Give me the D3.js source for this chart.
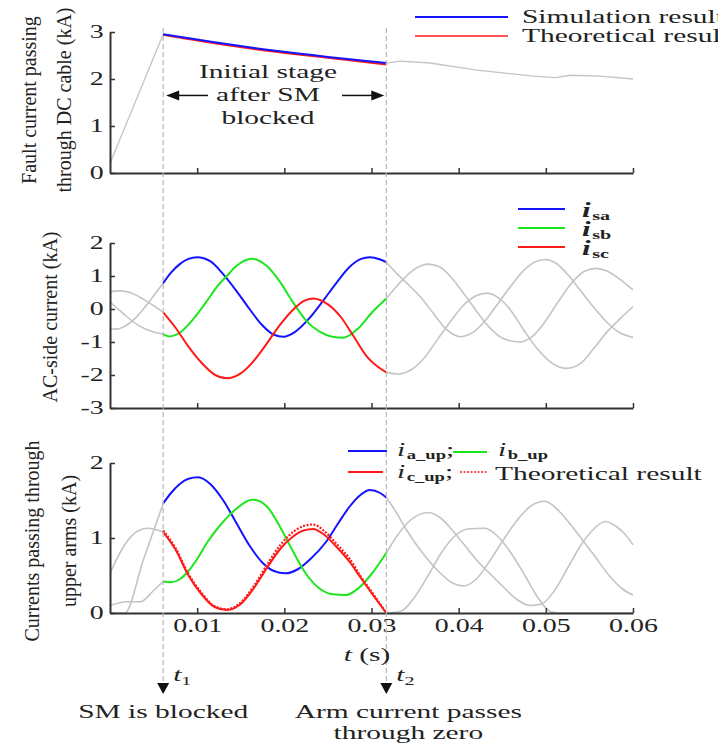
<!DOCTYPE html>
<html>
<head>
<meta charset="utf-8">
<script src="https://cdn.jsdelivr.net/npm/d3@7"></script>
<style>
  body { margin: 0; background: #fff; overflow: hidden; }
  svg { display: block; }
  text { font-family: "Liberation Serif", "Times New Roman", serif; fill: #222; }
</style>
</head>
<body>
<div id="chart"></div>
<script>
// ---- data (time in s, current in kA) ----
const T1 = 0.0061, T2 = 0.0317;
const xTicks = [0.01, 0.02, 0.03, 0.04, 0.05, 0.06];

// DC cable fault current
const dcBefore = [[0, 0.2], [0.0061, 2.95]];
const dcSim = [[0.0061, 2.95], [0.012, 2.78], [0.019, 2.60], [0.025, 2.47], [0.0317, 2.34]];
const dcTheo = [[0.0061, 2.94], [0.012, 2.76], [0.019, 2.58], [0.025, 2.45], [0.0317, 2.31]];
const dcAfter = [[0.0317, 2.34], [0.0333, 2.38], [0.0367, 2.34], [0.0421, 2.19], [0.0486, 2.06],
  [0.0512, 2.03], [0.0528, 2.08], [0.0562, 2.06], [0.06, 2.0]];

// AC-side currents
const acBefore = [
  [[0, 0.52], [0.001, 0.55], [0.002, 0.52], [0.003, 0.42], [0.004, 0.27], [0.005, 0.1], [0.0061, -0.1]],
  [[0, 0.22], [0.001, -0.02], [0.002, -0.25], [0.003, -0.45], [0.004, -0.6], [0.005, -0.7], [0.0061, -0.76]],
  [[0, -0.59], [0.0006, -0.61], [0.0015, -0.55], [0.0027, -0.33], [0.004, 0.05], [0.005, 0.4], [0.0061, 0.78]]
];
const isa = [[0.0061, 0.78], [0.007, 1.1], [0.008, 1.36], [0.009, 1.52], [0.01, 1.57], [0.0115, 1.45],
  [0.013, 1.05], [0.0145, 0.55], [0.016, 0.0], [0.0175, -0.5], [0.0188, -0.78], [0.0199, -0.84],
  [0.0212, -0.7], [0.0228, -0.3], [0.0245, 0.27], [0.026, 0.8], [0.0275, 1.28], [0.0288, 1.52],
  [0.0298, 1.57], [0.031, 1.5], [0.0317, 1.42]];
const isb = [[0.0061, -0.76], [0.0068, -0.83], [0.008, -0.72], [0.0095, -0.32], [0.011, 0.2],
  [0.0125, 0.75], [0.0134, 1.0], [0.0145, 1.3], [0.0163, 1.52], [0.018, 1.3], [0.0195, 0.82],
  [0.021, 0.2], [0.0225, -0.35], [0.024, -0.68], [0.0255, -0.84], [0.0268, -0.87], [0.0285, -0.58],
  [0.03, -0.12], [0.0317, 0.32]];
const isc = [[0.0061, -0.1], [0.0075, -0.56], [0.009, -1.14], [0.0105, -1.63], [0.012, -1.99],
  [0.0134, -2.1], [0.015, -1.95], [0.0165, -1.57], [0.018, -1.04], [0.0195, -0.48], [0.021, -0.02],
  [0.0222, 0.24], [0.0233, 0.32], [0.025, 0.14], [0.0265, -0.25], [0.028, -0.85], [0.0295, -1.45], [0.0317, -1.92]];
const acAfter = [
  [[0.0317, 1.42], [0.033, 1.05], [0.0343, 0.72], [0.0356, 0.37], [0.037, -0.1], [0.0386, -0.62],
   [0.0402, -0.84], [0.0418, -0.68], [0.0432, -0.3], [0.0446, 0.2], [0.046, 0.7], [0.0474, 1.15],
   [0.0487, 1.42], [0.0499, 1.5], [0.0512, 1.38], [0.0526, 1.02], [0.054, 0.55], [0.0555, 0.05],
   [0.057, -0.4], [0.0585, -0.72], [0.06, -0.86]],
  [[0.0317, 0.32], [0.033, 0.72], [0.0345, 1.12], [0.0356, 1.3], [0.0365, 1.36], [0.0378, 1.28],
   [0.039, 1.0], [0.0405, 0.5], [0.042, -0.05], [0.0435, -0.55], [0.045, -0.88], [0.047, -1.0],
   [0.0485, -0.82], [0.05, -0.35], [0.0515, 0.25], [0.053, 0.8], [0.0545, 1.15], [0.0558, 1.23],
   [0.057, 1.15], [0.0585, 0.9], [0.06, 0.58]],
  [[0.0317, -1.92], [0.0331, -1.97], [0.0345, -1.85], [0.036, -1.5], [0.0375, -0.95], [0.039, -0.4],
   [0.0405, 0.1], [0.042, 0.4], [0.0432, 0.48], [0.0445, 0.35], [0.046, -0.05], [0.0475, -0.65],
   [0.049, -1.2], [0.0505, -1.6], [0.0524, -1.8], [0.054, -1.65], [0.0555, -1.2], [0.057, -0.7],
   [0.0585, -0.3], [0.06, 0.07]]
];

// upper arm currents
const armBefore = [
  [[0, 0.53], [0.0018, 0.93], [0.0033, 1.1], [0.0044, 1.13], [0.0053, 1.11], [0.0061, 1.08]],
  [[0, 0.1], [0.0019, 0.15], [0.0035, 0.15], [0.005, 0.3], [0.0061, 0.42]],
  [[0, 0], [0.0017, 0], [0.0038, 0.7], [0.0061, 1.46]]
];
const iaUp = [[0.0061, 1.46], [0.007, 1.6], [0.008, 1.72], [0.009, 1.79], [0.0101, 1.81], [0.0115, 1.72],
  [0.013, 1.5], [0.0145, 1.2], [0.016, 0.9], [0.0175, 0.67], [0.0188, 0.56], [0.0201, 0.53],
  [0.0215, 0.58], [0.023, 0.72], [0.0248, 0.95], [0.0262, 1.2], [0.0275, 1.42], [0.0288, 1.58],
  [0.0298, 1.64], [0.031, 1.6], [0.0317, 1.54]];
const ibUp = [[0.0061, 0.42], [0.007, 0.41], [0.008, 0.45], [0.009, 0.56], [0.01, 0.72], [0.0112, 0.95],
  [0.0125, 1.15], [0.0141, 1.35], [0.0164, 1.51], [0.018, 1.42], [0.0195, 1.15], [0.021, 0.82],
  [0.0225, 0.52], [0.024, 0.33], [0.0255, 0.25], [0.0271, 0.24], [0.0285, 0.33], [0.03, 0.52], [0.0317, 0.8]];
const icUp = [[0.0061, 1.08], [0.0075, 0.85], [0.009, 0.5], [0.0105, 0.25], [0.012, 0.08], [0.0134, 0.04],
  [0.015, 0.12], [0.0165, 0.33], [0.018, 0.6], [0.0195, 0.85], [0.021, 1.02], [0.0222, 1.1],
  [0.0233, 1.12], [0.0245, 1.05], [0.026, 0.88], [0.0275, 0.68], [0.0287, 0.48], [0.0301, 0.25], [0.0317, 0.0]];
const icTheo = [[0.0061, 1.1], [0.0075, 0.87], [0.009, 0.52], [0.0105, 0.27], [0.012, 0.09], [0.0134, 0.05],
  [0.015, 0.14], [0.0165, 0.36], [0.018, 0.64], [0.0195, 0.9], [0.021, 1.08], [0.0222, 1.16],
  [0.0233, 1.18], [0.0245, 1.1], [0.026, 0.92], [0.0275, 0.72], [0.0287, 0.5], [0.0301, 0.27], [0.0317, 0.0]];
const armAfter = [
  [[0.0317, 1.54], [0.0328, 1.35], [0.034, 1.11], [0.036, 0.78], [0.0379, 0.53], [0.0393, 0.4],
   [0.0405, 0.36], [0.042, 0.45], [0.0436, 0.7], [0.0451, 0.97], [0.0466, 1.22], [0.0482, 1.42],
   [0.0499, 1.49], [0.0515, 1.36], [0.0527, 1.2], [0.0539, 1.02], [0.0556, 0.76], [0.0574, 0.48],
   [0.0588, 0.32], [0.06, 0.24]],
  [[0.0317, 0.8], [0.033, 1.04], [0.0345, 1.24], [0.0365, 1.34], [0.038, 1.26], [0.0393, 1.1],
   [0.0405, 0.93], [0.0425, 0.65], [0.0438, 0.5], [0.0451, 0.35], [0.0467, 0.18], [0.0482, 0.1],
   [0.0495, 0.12], [0.051, 0.3], [0.0525, 0.6], [0.054, 0.9], [0.0555, 1.12], [0.0568, 1.22],
   [0.058, 1.16], [0.059, 1.06], [0.06, 0.91]],
  [[0.0317, 0.0], [0.0333, 0.02], [0.035, 0.22], [0.0365, 0.5], [0.038, 0.8], [0.0395, 1.02],
   [0.041, 1.12], [0.043, 1.13], [0.0445, 1.02], [0.046, 0.8], [0.0475, 0.52], [0.049, 0.22],
   [0.0505, 0.02], [0.0515, 0.0], [0.06, 0.0]]
];

// ---- drawing ----
const W = 718, H = 744;
const XS = 1.55;         // horizontal stretch of the text in the figure
const BLUE = "#1414ff", GREEN = "#1ee61e", RED = "#ff1a1a", GRAY = "#c4c4c4", AXIS = "#333";

const svg = d3.select("#chart").append("svg")
  .attr("width", W).attr("height", H);

const x = d3.scaleLinear().domain([0, 0.06]).range([110, 633]);
const yDC = d3.scaleLinear().domain([0, 3]).range([173, 32]);
const yAC = d3.scaleLinear().domain([-3, 2]).range([408, 243]);
const yArm = d3.scaleLinear().domain([0, 2]).range([613, 463]);

function drawLine(data, y, color, width, curve, dash) {
  const line = d3.line().x(d => x(d[0])).y(d => y(d[1])).curve(curve || d3.curveMonotoneX);
  svg.append("path")
    .datum(data)
    .attr("d", line)
    .attr("fill", "none")
    .attr("stroke", color)
    .attr("stroke-width", width)
    .attr("stroke-dasharray", dash || null);
}

function drawAxes(y, ticks, showX) {
  const gx = svg.append("g")
    .attr("transform", `translate(0,${y.range()[0]})`)
    .call(d3.axisBottom(x).tickValues(xTicks).tickSize(-5).tickSizeOuter(0).tickPadding(6)
      .tickFormat(showX ? d3.format(".2f") : ""));
  const gy = svg.append("g")
    .attr("transform", `translate(${x.range()[0]},0)`)
    .call(d3.axisLeft(y).tickValues(ticks).tickSize(-5).tickSizeOuter(0).tickPadding(4)
      .tickFormat(d => String(d)));
  [gx, gy].forEach(g => {
    g.attr("font-family", null).attr("font-size", 18);
    g.select(".domain").attr("stroke", AXIS).attr("stroke-width", 2);
    g.selectAll(".tick line").attr("stroke", AXIS).attr("stroke-width", 1.5);
    g.selectAll(".tick text").attr("fill", "#222").attr("transform", `scale(${XS},1)`);
  });
}

// stretched horizontal text
function label(px, py, anchor, size) {
  return svg.append("g")
    .attr("transform", `translate(${px},${py}) scale(${XS},1)`)
    .append("text")
    .attr("text-anchor", anchor)
    .attr("font-size", size);
}

function yTitle(lines, cx, cy) {
  lines.forEach((s, i) => {
    svg.append("text")
      .attr("transform", `translate(${cx[i]},${cy}) rotate(-90)`)
      .attr("text-anchor", "middle")
      .attr("dy", "0.35em")
      .attr("font-size", 20)
      .text(s);
  });
}

// panel 1: DC cable current
drawLine(dcBefore, yDC, GRAY, 1.3, d3.curveLinear);
drawLine(dcAfter, yDC, GRAY, 1.3, d3.curveLinear);
drawLine(dcTheo, yDC, RED, 2);
drawLine(dcSim, yDC, BLUE, 2);
drawAxes(yDC, [0, 1, 2, 3], false);

// panel 2: AC-side currents
acBefore.forEach(s => drawLine(s, yAC, GRAY, 1.6));
acAfter.forEach(s => drawLine(s, yAC, GRAY, 1.6));
drawLine(isa, yAC, BLUE, 2);
drawLine(isb, yAC, GREEN, 2);
drawLine(isc, yAC, RED, 2);
drawAxes(yAC, [-3, -2, -1, 0, 1, 2], false);

// panel 3: upper arm currents
armBefore.forEach(s => drawLine(s, yArm, GRAY, 1.6));
armAfter.forEach(s => drawLine(s, yArm, GRAY, 1.6));
drawLine(iaUp, yArm, BLUE, 2);
drawLine(ibUp, yArm, GREEN, 2);
drawLine(icTheo, yArm, RED, 2.2, null, "2,1.5");
drawLine(icUp, yArm, RED, 2);
drawAxes(yArm, [0, 1, 2], true);

// vertical dashed markers for t1 and t2
const tipY = 694;
[T1, T2].forEach(t => {
  svg.append("line")
    .attr("x1", x(t)).attr("x2", x(t))
    .attr("y1", 28).attr("y2", tipY - 8)
    .attr("stroke", "#b4b4b4").attr("stroke-width", 1.2)
    .attr("stroke-dasharray", "5,3");
  svg.append("path")
    .attr("d", `M${x(t)},${tipY} l-6,-11 h12 z`)
    .attr("fill", "#111");
});

// "Initial stage after SM blocked" span arrows
const arrowY = yDC(1.65);
svg.append("line").attr("x1", x(T1) + 14).attr("x2", 208).attr("y1", arrowY).attr("y2", arrowY)
  .attr("stroke", "#111").attr("stroke-width", 1.5);
svg.append("path").attr("d", `M${x(T1) + 3},${arrowY} l13,-5 v10 z`).attr("fill", "#111");
svg.append("line").attr("x1", 342).attr("x2", x(T2) - 14).attr("y1", arrowY).attr("y2", arrowY)
  .attr("stroke", "#111").attr("stroke-width", 1.5);
svg.append("path").attr("d", `M${x(T2) - 2},${arrowY} l-13,-5 v10 z`).attr("fill", "#111");
["Initial stage", "after SM", "blocked"].forEach((s, i) => {
  label(268, 78 + i * 23, "middle", 19).text(s);
});

// legends
svg.append("line").attr("x1", 415).attr("x2", 508).attr("y1", 17).attr("y2", 17)
  .attr("stroke", BLUE).attr("stroke-width", 2);
svg.append("line").attr("x1", 415).attr("x2", 508).attr("y1", 36).attr("y2", 36)
  .attr("stroke", RED).attr("stroke-width", 1.6);
label(522, 23, "start", 19).text("Simulation result");
label(522, 42, "start", 19).text("Theoretical  result");

const acLeg = [["sa", BLUE], ["sb", GREEN], ["sc", RED]];
acLeg.forEach(([sub, c], i) => {
  const ly = 209 + i * 19;
  svg.append("line").attr("x1", 518).attr("x2", 565).attr("y1", ly).attr("y2", ly)
    .attr("stroke", c).attr("stroke-width", 2);
  const t = label(582, ly + 8, "start", 20).attr("font-weight", "bold");
  t.append("tspan").attr("font-style", "italic").text("i");
  t.append("tspan").attr("font-size", 13).attr("dx", 1).attr("dy", 3).text(sub);
});

function armLabel(px, py, sub, tail) {
  const t = label(px, py, "start", 19);
  t.append("tspan").attr("font-style", "italic").text("i");
  t.append("tspan").attr("font-size", 12).attr("font-weight", "bold").attr("dx", 1).attr("dy", 3).text(sub);
  if (tail) t.append("tspan").attr("dy", -3).text(tail);
}
svg.append("line").attr("x1", 348).attr("x2", 387).attr("y1", 451).attr("y2", 451)
  .attr("stroke", BLUE).attr("stroke-width", 2);
armLabel(397, 456, "a_up", ";");
svg.append("line").attr("x1", 453).attr("x2", 487).attr("y1", 452).attr("y2", 452)
  .attr("stroke", GREEN).attr("stroke-width", 2);
armLabel(498, 456, "b_up", null);
svg.append("line").attr("x1", 348).attr("x2", 383).attr("y1", 472).attr("y2", 472)
  .attr("stroke", RED).attr("stroke-width", 2);
armLabel(397, 478, "c_up", ";");
svg.append("line").attr("x1", 460).attr("x2", 487).attr("y1", 472).attr("y2", 472)
  .attr("stroke", RED).attr("stroke-width", 1.5).attr("stroke-dasharray", "2,1.5");
label(495, 480, "start", 19).text("Theoretical result");

// axis titles
yTitle(["Fault current passing", "through DC cable (kA)"], [29, 64], 100);
yTitle(["AC-side current (kA)"], [50], 317);
yTitle(["Currents passing through", "upper arms (kA)"], [32, 69], 541);

const tx = label(367, 661, "middle", 19);
tx.append("tspan").attr("font-style", "italic").text("t");
tx.append("tspan").text(" (s)");

// event annotations
[[T1, "1", ["SM is blocked"]], [T2, "2", ["Arm current passes", "through zero"]]].forEach(([t, n, lines]) => {
  const lt = label(x(t) + 10, 681, "start", 19);
  lt.append("tspan").attr("font-style", "italic").text("t");
  lt.append("tspan").attr("font-size", 13).attr("dy", 4).text(n);
  lines.forEach((s, i) => {
    label(x(t) + (lines.length > 1 ? 22 : 0), 718 + i * 21, "middle", 19).text(s);
  });
});
</script>
</body>
</html>
